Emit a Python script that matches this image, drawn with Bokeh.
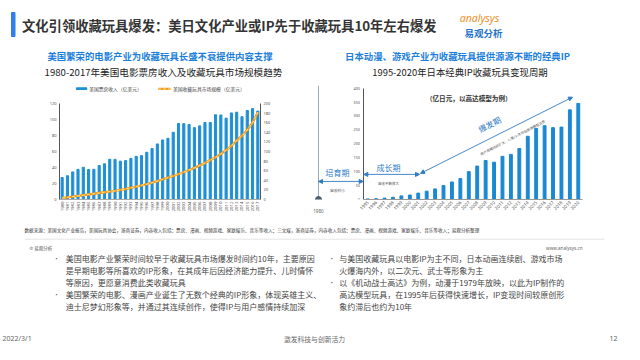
import math
from bokeh.plotting import figure
from bokeh.layouts import column, row
from bokeh.models import (Range1d, LinearAxis, FixedTicker, Label, Arrow, NormalHead,
                          Legend, LegendItem, ColumnDataSource)
from bokeh.embed import file_html
from bokeh.resources import INLINE

FONT = "Noto Sans CJK SC"

# ---------------- data ----------------
us_years = list(range(1980, 2018))
us_box_office = [27.5, 29.7, 34.5, 37.7, 40.3, 37.5, 37.8, 42.5, 44.6, 50.3,
                 50.2, 48.0, 48.7, 51.5, 54.0, 54.9, 59.1, 63.7, 69.5, 74.5,
                 76.6, 84.1, 95.2, 94.9, 93.8, 89.9, 92.1, 96.3, 96.3, 106.0,
                 105.7, 101.7, 108.3, 109.2, 103.6, 111.3, 113.7, 110.7]
us_toy_market = [3, 4.5, 6, 7.5, 9, 10.5, 12, 13.5, 15, 16.5,
                 18, 20, 22, 24.5, 27, 29.5, 32, 35, 38.5, 42,
                 45.5, 49, 53, 57, 61.5, 66, 71, 76, 82, 88,
                 95, 103, 112, 123, 133, 145, 160, 182]
left_ticks = [0, 20, 40, 60, 80, 100, 120]
right_ticks = [0, 20, 40, 60, 80, 100, 120, 140, 160, 180, 200]

jp_years = list(range(1995, 2021))
jp_gunpla = [2, 3, 5, 8, 13, 16, 23, 30, 38, 50,
             63, 75, 100, 120, 140, 134, 155, 162, 183, 227,
             255, 265, 258, 260, 322, 345]
jp_ticks = [0, 50, 100, 150, 200, 250, 300, 350, 400]
jp_start_year = 1980

title_text = "文化引领收藏玩具爆发：美日文化产业或IP先于收藏玩具10年左右爆发"
left_sub = "美国繁荣的电影产业为收藏玩具长盛不衰提供内容支撑"
left_title = "1980-2017年美国电影票房收入及收藏玩具市场规模趋势"
right_sub = "日本动漫、游戏产业为收藏玩具提供源源不断的经典IP"
right_title = "1995-2020年日本经典IP收藏玩具变现周期"
legend_labels = ["美国票房收入（亿美元）", "美国收藏玩具市场规模（亿美元）"]
source_text = ("数据来源：美国文化产业报告，美国玩具协会，浙商证券，内容收入包括：票房、漫画、视频游戏、"
               "家庭娱乐、音乐等收入；三文娱，浙商证券，内容收入包括：票房、漫画、视频游戏、家庭娱乐、"
               "音乐等收入；易观分析整理")
left_bullets = [
    ["美国电影产业繁荣时间较早于收藏玩具市场爆发时间约10年，主要原因",
     "是早期电影等所喜欢的IP形象，在其成年后因经济能力提升、儿时情怀",
     "等原因，更愿意消费此类收藏玩具"],
    ["美国繁荣的电影、漫画产业诞生了无数个经典的IP形象，体现英雄主义、",
     "迪士尼梦幻形象等，并通过其连续创作，使得IP与用户感情持续加深"],
]
right_bullets = [
    ["与美国收藏玩具以电影IP为主不同，日本动画连续剧、游戏市场",
     "火爆海内外，以二次元、武士等形象为主"],
    ["以《机动战士高达》为例，动漫于1979年放映，以此为IP制作的",
     "高达模型玩具，在1995年后获得快速增长，IP变现时间较原创形",
     "象约滞后也约为10年"],
]

BLUE = "#1E90D5"
ANN = "#2F7CC4"


def txt(p, x, y, text, size, color="#333333", bold=False, align="left",
        baseline="middle", angle=0, font=FONT, italic=False):
    style = "normal"
    if bold and italic:
        style = "bold italic"
    elif bold:
        style = "bold"
    elif italic:
        style = "italic"
    p.add_layout(Label(x=x, y=y, text=text, text_font=font,
                       text_font_size=f"{size}px", text_color=color,
                       text_font_style=style, text_align=align,
                       text_baseline=baseline, angle=angle, angle_units="deg"))


def canvas(w, h, x0, x1, y0, y1):
    p = figure(width=w, height=h, x_range=Range1d(x0, x1), y_range=Range1d(y1, y0),
               x_axis_type=None, y_axis_type=None, toolbar_location=None,
               output_backend="svg", min_border=0, title=None)
    p.outline_line_color = None
    p.background_fill_color = "white"
    p.border_fill_color = "white"
    return p


def arrow(p, x0, y0, x1, y1):
    p.add_layout(Arrow(x_start=x0, y_start=y0, x_end=x1, y_end=y1,
                       line_color=ANN, line_width=0.9,
                       start=NormalHead(size=4, fill_color=ANN, line_color=ANN),
                       end=NormalHead(size=4, fill_color=ANN, line_color=ANN)))


def style_axis(ax, size, standoff):
    ax.major_tick_line_color = None
    ax.minor_tick_line_color = None
    ax.major_tick_out = 0
    ax.major_tick_in = 0
    ax.minor_tick_out = 0
    ax.minor_tick_in = 0
    ax.major_label_text_font_size = f"{size}px"
    ax.major_label_text_color = "#555555"
    ax.major_label_standoff = standoff
    ax.major_label_text_font = "Noto Sans"


# ---------------- header ----------------
header = canvas(624, 80, 8, 632, 8, 88)
header.quad(left=[19], right=[22.5], top=[20], bottom=[44], color="#2F80ED")
txt(header, 29.5, 33, title_text, 13.3, "#333333", bold=True)
txt(header, 487, 25.5, "analysys", 10.5, "#F0902A", italic=True, align="center", font="Noto Sans")
txt(header, 491, 40.5, "易观分析", 9.5, "#1F74C9", bold=True, align="center")
txt(header, 167.5, 63.5, left_sub, 9.4, "#1D7FDB", bold=True, align="center")
txt(header, 171, 79.5, left_title, 9.6, "#222222", align="center")
txt(header, 465, 63.5, right_sub, 9.4, "#1D7FDB", bold=True, align="center")
txt(header, 467.5, 79.5, right_title, 9.4, "#222222", align="center")

# ---------------- left chart ----------------
left = figure(width=312, height=144, x_range=Range1d(1979.5, 2017.5),
              y_range=Range1d(0, 142.6), toolbar_location=None, output_backend="svg",
              min_border_left=59, min_border_right=52, min_border_top=5,
              min_border_bottom=19, title=None)
left.extra_y_ranges = {"toy": Range1d(0, 142.6 * 200 / 120)}
left.grid.visible = False
left.outline_line_color = None
src_us = ColumnDataSource(dict(year=us_years, box=us_box_office, toy=us_toy_market))
bars = left.vbar(x="year", top="box", width=0.4, source=src_us, color=BLUE)
l1 = left.line(x="year", y="toy", source=src_us, y_range_name="toy",
               line_color="#F29A1F", line_width=2.4)
l2 = left.line(x="year", y="toy", source=src_us, y_range_name="toy",
               line_color="#FDE58A", line_width=1.0, line_dash="3 2")
ra = LinearAxis(y_range_name="toy", ticker=FixedTicker(ticks=right_ticks), bounds=(0, 200))
left.add_layout(ra, "right")
left.yaxis[0].ticker = FixedTicker(ticks=left_ticks)
left.yaxis[0].bounds = (0, 120)
for ax in left.yaxis:
    style_axis(ax, 4, 3)
    ax.axis_line_color = "#555555"
left.xaxis.ticker = FixedTicker(ticks=us_years)
left.xaxis.major_label_orientation = math.pi / 2
style_axis(left.xaxis[0], 4.3, 2)
left.xaxis.axis_line_color = "#AAAAAA"
leg = Legend(items=[LegendItem(label=legend_labels[0], renderers=[bars]),
                    LegendItem(label=legend_labels[1], renderers=[l1, l2])],
             orientation="horizontal", location="top_center",
             label_text_font=FONT, label_text_font_size="4.8px", label_text_color="#444444",
             glyph_width=13, glyph_height=3, label_standoff=2, spacing=16,
             padding=2, margin=0, label_height=6, background_fill_alpha=0,
             border_line_color=None)
left.add_layout(leg)

# ---------------- right chart ----------------
PXU = 0.28825                    # px per 亿日元
PXY = 219 / 26                   # px per year
Y_TOP = (207 - 89) / PXU
X_START = 1994.5 - 51 / PXY
right = figure(width=312, height=144, x_range=Range1d(X_START, 2020.5),
               y_range=Range1d(0, Y_TOP), toolbar_location=None, output_backend="svg",
               y_axis_location="right",
               min_border_left=0, min_border_right=42, min_border_top=1,
               min_border_bottom=25, title=None)
right.grid.visible = False
right.outline_line_color = None
src_jp = ColumnDataSource(dict(year=jp_years, val=jp_gunpla))
right.vbar(x="year", top="val", width=0.34, source=src_jp, color="#1A88D2")

# value axis placed where the 1995 series starts (labels on its left side)
FS = "\u2007"
yax = right.yaxis[0]
yax.ticker = FixedTicker(ticks=jp_ticks)
yax.bounds = (0, 400)
yax.fixed_location = 1994.5
yax.axis_line_color = "#555555"
style_axis(yax, 3.8, -10)
yax.major_label_overrides = {t: FS * (3 - len(str(t))) + str(t) for t in jp_ticks}

xax = right.xaxis[0]
xax.ticker = FixedTicker(ticks=jp_years)
xax.bounds = (1994.5, 2020.5)
xax.major_label_orientation = math.pi / 4
style_axis(xax, 4.5, 2)
xax.axis_line_color = "#999999"

# timeline before the first bar (1980 start of the IP)
X1980 = 1994.5 - 45 / PXY
ax1980 = LinearAxis(ticker=FixedTicker(ticks=[X1980]),
                    major_label_overrides={X1980: str(jp_start_year)},
                    axis_line_color=None)
style_axis(ax1980, 4.6, -6)
ax1980.major_label_text_color = "#666666"
right.add_layout(ax1980, "below")
right.segment(x0=[X1980], y0=[0], x1=[X1980], y1=[Y_TOP], line_color="#7A93AA", line_width=0.8)
right.scatter(x=[X1980], y=[0], size=6, color="#4A5E70")
arrow(right, X1980, 64.9, 1994.46, 64.9)
txt(right, 1991.41, 97, "培育期", 8, ANN, align="center")
txt(right, 1991.41, 31, "营收较小", 3.8, "#555555", align="center")
arrow(right, 1994.54, 90.2, 2001.15, 90.2)
txt(right, 1997.47, 114.5, "成长期", 8, ANN, align="center")
txt(right, 1997.47, 59, "营收不断放大", 3.5, "#555555", align="center")
arrow(right, 2001.27, 93.7, 2019.31, 367.5)
txt(right, 2009.46, 270, "爆发期", 8, ANN, align="center", angle=27.5)
txt(right, 2012.2, 222, "用户规模持续扩大，儿童/少年开始高端模型消费", 3.4, "#555555",
    align="center", angle=27.5)
txt(right, 2007.0, 365, "（亿日元，以高达模型为例）", 6.6, "#333333", bold=True, align="center")

# ---------------- footer ----------------
footer = canvas(624, 120, 8, 632, 232, 352)
txt(footer, 32, 237.7, source_text, 4.6, "#333333")
footer.segment(x0=[32], y0=[246.7], x1=[612], y1=[246.7], line_color="#DDDDDD", line_width=0.8)
txt(footer, 37, 255, "© 易观分析", 4.5, "#555555")
txt(footer, 590, 255, "www.analysys.cn", 4.6, "#666666", align="right", font="Noto Sans")

ys = [266, 278.2, 290.3, 302.4, 314.4]


def bullets(p, bx, tx, groups):
    k = 0
    for g in groups:
        for j, line in enumerate(g):
            if j == 0:
                txt(p, bx, ys[k], "•", 6, "#555555", align="center")
            txt(p, tx, ys[k], line, 8, "#444444")
            k += 1


bullets(footer, 64, 73.3, left_bullets)
bullets(footer, 339.3, 346.7, right_bullets)
txt(footer, 10, 346, "2022/3/1", 7, "#666666", font="Noto Sans")
txt(footer, 322, 346, "激发科技与创新活力", 6.8, "#666666", align="center")
txt(footer, 621, 346, "12", 7, "#666666", align="center", font="Noto Sans")

layout = column(header, row(left, right), footer)
open("out.html", "w").write(file_html(layout, INLINE))
